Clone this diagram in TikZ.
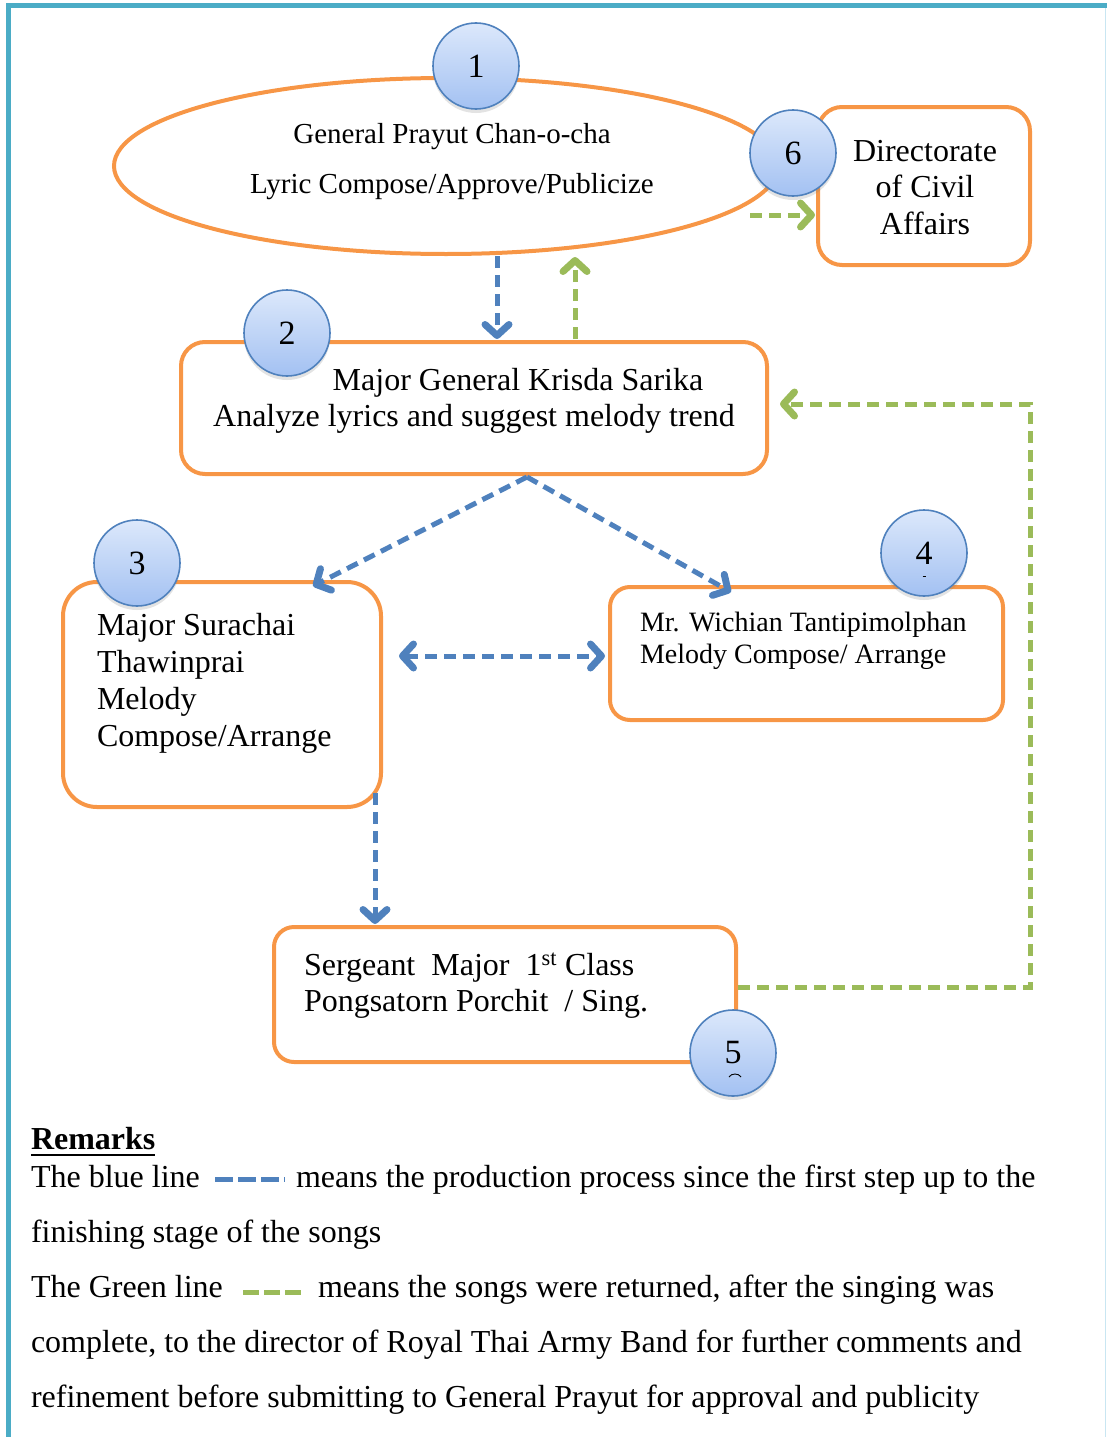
\documentclass[tikz,border=0pt]{standalone}
\usepackage{fontspec}
\setmainfont{Liberation Serif}
\usetikzlibrary{arrows.meta,shapes.geometric,shadows}

\definecolor{frameteal}{HTML}{4BACC6}
\definecolor{frameedge}{HTML}{C9E6F2}
\definecolor{boxorange}{HTML}{F79646}
\definecolor{flowblue}{HTML}{4F81BD}
\definecolor{flowgreen}{HTML}{9BBB59}
\definecolor{ballTop}{HTML}{DCE8FB}
\definecolor{ballBot}{HTML}{A3C1F2}

\begin{document}
\begin{tikzpicture}[x=1pt,y=-1pt,
  stagebox/.style={draw=boxorange, line width=4pt, rounded corners=#1,
    inner sep=0pt, outer sep=0pt},
  stagebox/.default=22pt,
  badge/.style={circle, minimum size=86pt, inner sep=0pt, draw=flowblue,
    line width=1.6pt, top color=ballTop, bottom color=ballBot,
    drop shadow={shadow xshift=0pt, shadow yshift=-4pt, opacity=0.22},
    font=\fontsize{34}{40}\selectfont},
  lbl/.style={inner sep=0pt, outer sep=0pt, font=\fontsize{32}{38}\selectfont},
  barb/.tip={Straight Barb[length=11pt,width=24pt,line width=7pt,round]},
  flow/.style={line width=5pt, dash pattern=on 12pt off 7pt, -barb},
  blueflow/.style={flow, draw=flowblue},
  greenflow/.style={flow, draw=flowgreen},
]
\useasboundingbox (0,0) rectangle (1107,1437);

% page frame
\draw[frameteal, line width=5pt] (8.5,1437) -- (8.5,6) -- (1107,6);
\draw[frameedge, line width=1.5pt] (1105.5,8.5) -- (1105.5,1437);

% stage 1: ellipse
\node[ellipse, draw=boxorange, line width=4pt, minimum width=664pt,
  minimum height=176pt, inner sep=0pt, outer sep=0pt] (ell) at (446,166) {};
\node[lbl, anchor=base, font=\fontsize{29}{35}\selectfont] (ellA) at (452,143) {General Prayut Chan-o-cha};
\node[lbl, anchor=base, font=\fontsize{29}{35}\selectfont] (ellB) at (452,193) {Lyric Compose/Approve/Publicize};

% boxes
\node[stagebox=24pt, minimum width=212pt, minimum height=158pt] (box6) at (924,186) {};
\node[stagebox=24pt, minimum width=586pt, minimum height=132pt] (box2) at (474,408) {};
\node[stagebox=34pt, minimum width=318pt, minimum height=225pt] (box3) at (222,694.5) {};
\node[stagebox=20pt, minimum width=393pt, minimum height=133pt] (box4) at (806.5,653.5) {};
\node[stagebox=20pt, minimum width=462pt, minimum height=135pt] (box5) at (505,994.5) {};

% box texts
\node[lbl, anchor=base] (t6a) at (925,161) {Directorate};
\node[lbl, anchor=base] (t6b) at (925,197) {of Civil};
\node[lbl, anchor=base] (t6c) at (925,234) {Affairs};

\node[lbl, anchor=base] (t2a) at (518,390) {Major General Krisda Sarika};
\node[lbl, anchor=base] (t2b) at (474,426) {Analyze lyrics and suggest melody trend};

\node[lbl, anchor=base west] (t3a) at (97,635) {Major Surachai};
\node[lbl, anchor=base west] (t3b) at (97,672) {Thawinprai};
\node[lbl, anchor=base west] (t3c) at (97,709) {Melody};
\node[lbl, anchor=base west] (t3d) at (97,746) {Compose/Arrange};

\node[lbl, anchor=base west, font=\fontsize{28}{34}\selectfont] (t4a) at (640,631) {Mr. Wichian Tantipimolphan};
\node[lbl, anchor=base west, font=\fontsize{28}{34}\selectfont] (t4b) at (640,663) {Melody Compose/ Arrange};

\node[lbl, anchor=base west] (t5a) at (304,975) {Sergeant\ \ Major\ \ 1\textsuperscript{st} Class};
\node[lbl, anchor=base west] (t5b) at (304,1011) {Pongsatorn Porchit\ \ / Sing.};

% connector end points
\coordinate (e1out) at (497,256);
\coordinate (b2in)  at (497,339);
\coordinate (b2out) at (575,339);
\coordinate (e1in)  at (575,257);
\coordinate (e6out) at (750,215);
\coordinate (b6in)  at (815,215);
\coordinate (b2fork) at (527,477);
\coordinate (b3in)  at (313,586);
\coordinate (b4in)  at (731,592);
\coordinate (b3side) at (399,656);
\coordinate (b4side) at (605,656);
\coordinate (b3out) at (375,793);
\coordinate (b5in)  at (375,924);
\coordinate (b5out) at (738,987);
\coordinate (turnA) at (1030,987);
\coordinate (turnB) at (1030,404);
\coordinate (b2back) at (780,404);

% connectors
\draw[blueflow] (e1out) -- (b2in);
\draw[greenflow] (b2out) -- (e1in);
\draw[greenflow] (e6out) -- (b6in);
\draw[blueflow] (b2fork) -- (b3in);
\draw[blueflow] (b2fork) -- (b4in);
\draw[blueflow, barb-barb] (b3side) -- (b4side);
\draw[blueflow] (b3out) -- (b5in);
\draw[greenflow, line join=miter] (b5out) -- (turnA) -- (turnB) -- (b2back);

% numbered badges
\node[badge] (n1) at (476,66) {1};
\node[badge] (n2) at (287,333) {2};
\node[badge] (n3) at (137,563) {3};
\node[badge] (n4) at (924,553) {4};
\node[badge] (n5) at (733,1053) {5};
\node[badge] (n6) at (793,153) {6};
\draw[black, line width=0.8pt] (922.5,576) -- (925.5,576);
\draw[black, line width=0.9pt] (729,1077) .. controls (731,1073) and (739,1073) .. (741,1077);

% remarks
\node[lbl, anchor=base west, font=\fontsize{32}{38}\selectfont\bfseries] (rem) at (31,1149) {Remarks};
\draw[black, line width=2.6pt] (31,1155) -- (155,1155);

\node[lbl, anchor=base west] (r1a) at (31,1187) {The blue line};
\draw[flowblue, line width=5pt, dash pattern=on 18pt off 5pt] (215,1179) -- (285,1179);
\node[lbl, anchor=base west] (r1b) at (296,1187) {means the production process since the first step up to the};
\node[lbl, anchor=base west] (r2) at (31,1242) {finishing stage of the songs};
\node[lbl, anchor=base west] (r3a) at (31,1297) {The Green line};
\draw[flowgreen, line width=5pt, dash pattern=on 16pt off 5pt] (243,1292) -- (302,1292);
\node[lbl, anchor=base west] (r3b) at (318,1297) {means the songs were returned, after the singing was};
\node[lbl, anchor=base west] (r4) at (31,1352) {complete, to the director of Royal Thai Army Band for further comments and};
\node[lbl, anchor=base west] (r5) at (31,1407) {refinement before submitting to General Prayut for approval and publicity};
\end{tikzpicture}
\end{document}
